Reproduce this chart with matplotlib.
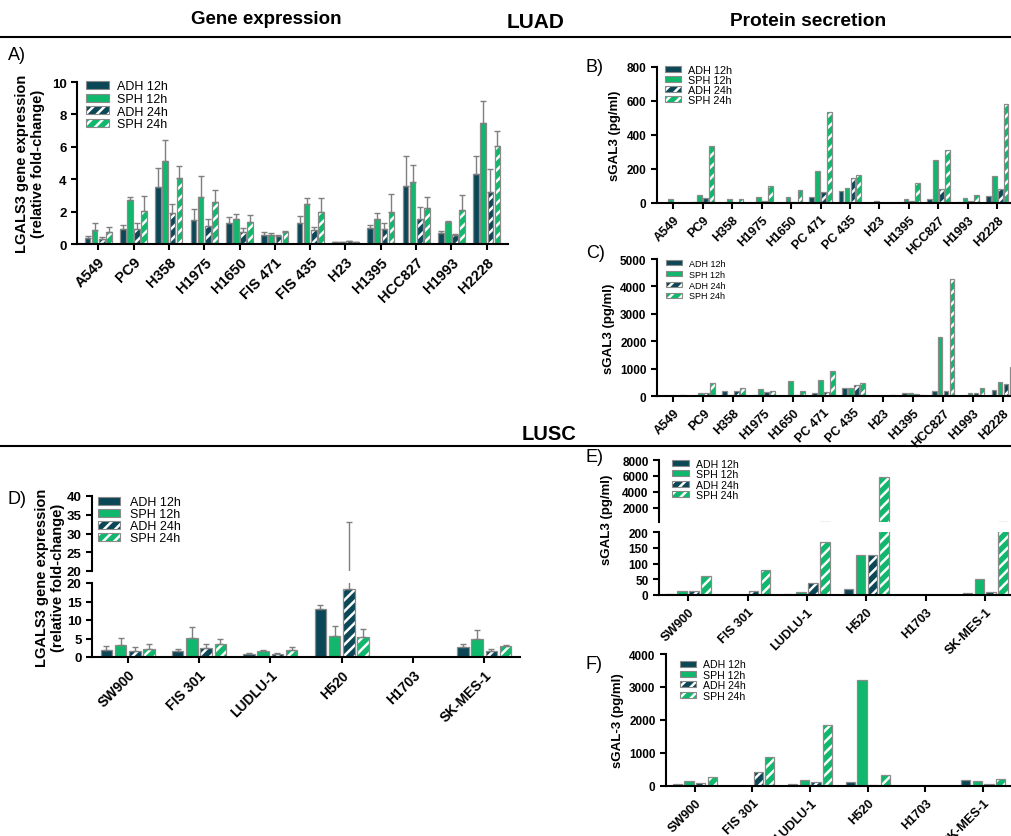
import numpy as np
import matplotlib
matplotlib.use("Agg")
import matplotlib.pyplot as plt
from matplotlib.patches import Patch
from matplotlib.legend_handler import HandlerTuple
from matplotlib.lines import Line2D

plt.rcParams['font.family'] = ['Liberation Sans', 'DejaVu Sans']
plt.rcParams['hatch.linewidth'] = 1.8

# LUAD gene expression (A)
luad_gene_lines = ['A549', 'PC9', 'H358', 'H1975', 'H1650', 'FIS 471', 'FIS 435',
                   'H23', 'H1395', 'HCC827', 'H1993', 'H2228']
a_adh12 = [0.38, 0.92, 3.5, 1.48, 1.27, 0.58, 1.3, 0.12, 0.97, 3.6, 0.65, 4.35]
a_sph12 = [0.88, 2.7, 5.12, 2.9, 1.55, 0.55, 2.5, 0.13, 1.55, 3.82, 1.38, 7.45]
a_adh24 = [0.28, 0.95, 1.92, 1.1, 0.75, 0.5, 0.88, 0.16, 0.9, 1.55, 0.57, 3.22]
a_sph24 = [0.72, 2.05, 4.07, 2.57, 1.35, 0.72, 2.0, 0.12, 2.0, 2.2, 2.08, 6.05]
a_adh12_err = [0.1, 0.23, 1.22, 0.67, 0.38, 0.14, 0.4, 0.03, 0.21, 1.85, 0.15, 1.1]
a_sph12_err = [0.4, 0.23, 1.33, 1.28, 0.33, 0.13, 0.32, 0.02, 0.35, 1.03, 0.07, 1.4]
a_adh24_err = [0.14, 0.37, 0.53, 0.42, 0.25, 0.08, 0.14, 0.02, 0.38, 0.72, 0.03, 1.38]
a_sph24_err = [0.3, 0.93, 0.73, 0.75, 0.47, 0.1, 0.82, 0.02, 1.08, 0.68, 0.92, 0.95]

# LUAD protein secretion (B, C)
luad_prot_lines = ['A549', 'PC9', 'H358', 'H1975', 'H1650', 'PC 471', 'PC 435',
                   'H23', 'H1395', 'HCC827', 'H1993', 'H2228']
b_adh12 = [0, 3, 0, 0, 0, 35, 68, 0, 3, 22, 3, 40]
b_sph12 = [25, 45, 22, 38, 38, 188, 88, 12, 25, 255, 28, 158]
b_adh24 = [0, 30, 2, 10, 4, 67, 150, 0, 10, 85, 10, 82]
b_sph24 = [0, 338, 24, 98, 78, 535, 163, 0, 118, 312, 50, 580]

c_adh12 = [10, 15, 190, 50, 0, 100, 310, 0, 110, 200, 0, 230]
c_sph12 = [5, 125, 40, 240, 540, 590, 310, 0, 110, 2150, 110, 500]
c_adh24 = [0, 125, 190, 150, 20, 160, 400, 0, 75, 175, 100, 430]
c_sph24 = [50, 460, 280, 200, 190, 910, 460, 25, 40, 4280, 300, 1050]

# LUSC gene expression (D)
lusc_lines = ['SW900', 'FIS 301', 'LUDLU-1', 'H520', 'H1703', 'SK-MES-1']
d_adh12 = [1.9, 1.6, 0.7, 13.0, 0, 2.6]
d_sph12 = [3.3, 5.2, 1.6, 5.8, 0, 4.9]
d_adh24 = [1.6, 2.4, 0.8, 18.4, 0, 1.7]
d_sph24 = [2.1, 3.4, 1.9, 5.3, 0, 2.9]
d_adh12_err = [1.1, 0.5, 0.3, 1.1, 0, 0.9]
d_sph12_err = [1.9, 3.0, 0.4, 2.5, 0, 2.4]
d_adh24_err = [1.2, 1.1, 0.4, 14.6, 0, 0.5]
d_sph24_err = [1.4, 1.6, 0.8, 2.4, 0, 0.3]

# LUSC protein secretion (E, F)
e_adh12 = [3, 0, 3, 20, 0, 5]
e_sph12 = [12, 0, 10, 128, 0, 50]
e_adh24 = [13, 13, 38, 128, 0, 8]
e_sph24 = [60, 80, 168, 5850, 0, 260]

f_adh12 = [50, 0, 50, 130, 0, 180]
f_sph12 = [140, 0, 180, 3220, 0, 155]
f_adh24 = [80, 420, 120, 20, 0, 60]
f_sph24 = [280, 870, 1850, 330, 0, 200]

series_names = ['ADH 12h', 'SPH 12h', 'ADH 24h', 'SPH 24h']
dark = '#0b4757'
green = '#0fb86c'
edge = '#8a8a8a'
colors = [dark, green, dark, green]
hatched = [False, False, True, True]
offsets = [-0.3, -0.1, 0.1, 0.3]
bw = 0.16

fig = plt.figure(figsize=(10.12, 8.37), dpi=100)
W, H = 1012.0, 837.0


def add_ax(x0, y_top, x1, y_bot):
    return fig.add_axes([x0 / W, 1 - y_bot / H, (x1 - x0) / W, (y_bot - y_top) / H])


def draw_bars(ax, series, errs=None):
    n = len(series[0])
    x = np.arange(n)
    for i, vals in enumerate(series):
        xs = x + offsets[i]
        if hatched[i]:
            ax.bar(xs, vals, bw, color=colors[i], edgecolor='white', hatch='///', linewidth=0)
            ax.bar(xs, vals, bw, fill=False, edgecolor=edge, linewidth=0.9)
        else:
            ax.bar(xs, vals, bw, color=colors[i], edgecolor=edge, linewidth=0.9)
        if errs is not None:
            ax.errorbar(xs, vals, yerr=[np.zeros(n), errs[i]], fmt='none', ecolor='#7f7f7f',
                        elinewidth=1, capsize=2.2, capthick=1)


def style(ax, labels=None, fs=9, tfs=9):
    for s in ['top', 'right']:
        ax.spines[s].set_visible(False)
    for s in ['left', 'bottom']:
        ax.spines[s].set_linewidth(1.5)
    ax.tick_params(width=1.5, length=4)
    for t in ax.get_yticklabels():
        t.set_fontweight('bold')
        t.set_fontsize(fs)
    if labels is not None:
        ax.set_xticks(np.arange(len(labels)))
        ax.set_xticklabels(labels, rotation=45, ha='right', rotation_mode='anchor',
                           fontweight='bold', fontsize=tfs)


def legend(ax, fs, anchor, hl=1.9, hh=0.55, sp=0.05, pad=0.6):
    handles = []
    for i in range(4):
        if hatched[i]:
            handles.append((Patch(facecolor=colors[i], edgecolor='white', hatch='///', linewidth=0),
                            Patch(fill=False, edgecolor=edge, linewidth=0.8)))
        else:
            handles.append(Patch(facecolor=colors[i], edgecolor=edge, linewidth=0.8))
    ax.legend(handles, series_names, loc='upper left', bbox_to_anchor=anchor, frameon=False,
              fontsize=fs, handlelength=hl, handleheight=hh, labelspacing=sp,
              handletextpad=pad, borderpad=0, borderaxespad=0,
              handler_map={tuple: HandlerTuple(ndivide=1)})


# ---- A
axA = add_ax(77, 83, 508, 245)
draw_bars(axA, [a_adh12, a_sph12, a_adh24, a_sph24],
          [a_adh12_err, a_sph12_err, a_adh24_err, a_sph24_err])
axA.set_xlim(-0.6, 11.6)
axA.set_ylim(0, 10)
axA.set_yticks([0, 2, 4, 6, 8, 10])
style(axA, luad_gene_lines, fs=9.5, tfs=10.5)
axA.set_ylabel('LGALS3 gene expression\n(relative fold-change)', fontweight='bold', fontsize=10.5, labelpad=5)
legend(axA, 9, (0.02, 1.01), hl=1.9, hh=0.6, sp=0.05, pad=0.6)

# ---- B
axB = add_ax(657, 68, 1012, 204)
draw_bars(axB, [b_adh12, b_sph12, b_adh24, b_sph24])
axB.set_xlim(-0.55, 11.5)
axB.set_ylim(0, 800)
axB.set_yticks([0, 200, 400, 600, 800])
style(axB, luad_prot_lines, fs=8.5, tfs=9)
axB.set_ylabel('sGAL3 (pg/ml)', fontweight='bold', fontsize=9.5, labelpad=4)
legend(axB, 7.8, (0.022, 1.015), hl=1.5, hh=0.45, sp=0.0, pad=0.6)

# ---- C
axC = add_ax(657, 260, 1012, 397)
draw_bars(axC, [c_adh12, c_sph12, c_adh24, c_sph24])
axC.set_xlim(-0.55, 11.3)
axC.set_ylim(0, 5000)
axC.set_yticks([0, 1000, 2000, 3000, 4000, 5000])
style(axC, luad_prot_lines, fs=8.5, tfs=9)
axC.set_ylabel('sGAL3 (pg/ml)', fontweight='bold', fontsize=9.5, labelpad=4)
legend(axC, 6.5, (0.025, 1.0), hl=1.8, hh=0.5, sp=0.2, pad=0.8)

# ---- D (broken axis)
dseries = [d_adh12, d_sph12, d_adh24, d_sph24]
derrs = [d_adh12_err, d_sph12_err, d_adh24_err, d_sph24_err]
axDu = add_ax(92, 497, 520, 572)
axDl = add_ax(92, 584, 520, 658)
for ax in (axDu, axDl):
    draw_bars(ax, dseries, derrs)
    ax.set_xlim(-0.5, 5.5)
axDu.set_ylim(20, 40)
axDu.set_yticks([20, 25, 30, 35, 40])
axDl.set_ylim(0, 20)
axDl.set_yticks([0, 5, 10, 15, 20])
style(axDu, fs=9.5)
axDu.spines['bottom'].set_visible(False)
axDu.set_xticks([])
style(axDl, lusc_lines, fs=9.5, tfs=10)
legend(axDu, 9, (0.015, 1.0), hl=1.7, hh=0.6, sp=0.0, pad=0.8)
fig.text(50 / W, 1 - 578 / H, 'LGALS3 gene expression\n(relative fold-change)', rotation=90,
         ha='center', va='center', fontweight='bold', fontsize=10.5, multialignment='center')

# ---- E (broken axis)
eseries = [e_adh12, e_sph12, e_adh24, e_sph24]
axEu = add_ax(659, 461, 1012, 523)
axEl = add_ax(659, 533, 1012, 596)
for ax in (axEu, axEl):
    draw_bars(ax, eseries)
    ax.set_xlim(-0.49, 5.45)
axEu.set_ylim(200, 8000)
axEu.set_yticks([2000, 4000, 6000, 8000])
axEl.set_ylim(0, 200)
axEl.set_yticks([0, 50, 100, 150, 200])
style(axEu, fs=8.5)
axEu.spines['bottom'].set_visible(False)
axEu.set_xticks([])
style(axEl, lusc_lines, fs=8.5, tfs=9)
legend(axEu, 7.6, (0.037, 1.02), hl=1.6, hh=0.5, sp=0.04, pad=0.7)
fig.text(607 / W, 1 - 520 / H, 'sGAL3 (pg/ml)', rotation=90, ha='center', va='center',
         fontweight='bold', fontsize=9.5)

# ---- F
axF = add_ax(666, 655, 1012, 787)
draw_bars(axF, [f_adh12, f_sph12, f_adh24, f_sph24])
axF.set_xlim(-0.5, 5.5)
axF.set_ylim(0, 4000)
axF.set_yticks([0, 1000, 2000, 3000, 4000])
style(axF, lusc_lines, fs=8.5, tfs=9)
axF.set_ylabel('sGAL-3 (pg/ml)', fontweight='bold', fontsize=9.5, labelpad=4)
legend(axF, 7.6, (0.04, 0.96), hl=1.5, hh=0.5, sp=0.04, pad=0.7)

# ---- titles, separators, panel letters
fig.text(266 / W, 1 - 20 / H, 'Gene expression', ha='center', va='center', fontweight='bold', fontsize=13.5)
fig.text(536 / W, 1 - 22 / H, 'LUAD', ha='center', va='center', fontweight='bold', fontsize=15)
fig.text(808 / W, 1 - 22 / H, 'Protein secretion', ha='center', va='center', fontweight='bold', fontsize=13.8)
fig.text(549 / W, 1 - 435 / H, 'LUSC', ha='center', va='center', fontweight='bold', fontsize=14.5)
fig.add_artist(Line2D([0, 1], [1 - 38 / H, 1 - 38 / H], transform=fig.transFigure, color='black', lw=1.5))
fig.add_artist(Line2D([0, 1], [1 - 447 / H, 1 - 447 / H], transform=fig.transFigure, color='black', lw=1.5))

for lab, px, py in [('A)', 8, 55), ('B)', 586, 67), ('C)', 586, 253),
                    ('D)', 8, 500), ('E)', 586, 458), ('F)', 586, 665)]:
    fig.text(px / W, 1 - py / H, lab, ha='left', va='center', fontsize=13)

plt.savefig('out.png', dpi=100)
